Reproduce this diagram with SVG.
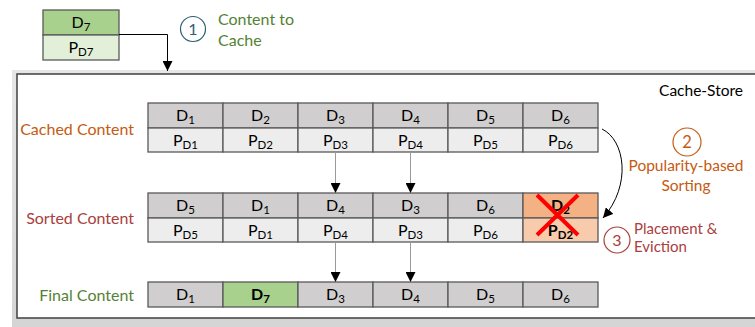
<svg xmlns="http://www.w3.org/2000/svg" width="755" height="327" viewBox="0 0 755 327">
<defs>
<marker id="ah" viewBox="0 0 10 10" refX="10" refY="5" markerWidth="10" markerHeight="10" markerUnits="userSpaceOnUse" orient="auto"><path d="M0,0 L10,5 L0,10 z" fill="#000"/></marker>
<linearGradient id="band" x1="0" y1="0" x2="0" y2="1"><stop offset="0" stop-color="#e6e6e6"/><stop offset="1" stop-color="#d4d4d4"/></linearGradient>
</defs>
<style>
text{font-family:Lato,"Liberation Sans",sans-serif;}
.cell{stroke:#595959;stroke-width:1.3;}
.d{fill:#d0cece;}
.p{fill:#ededed;}
.t{font-size:16px;fill:#000;text-anchor:middle;}
.s{font-size:11.5px;}
.lbl{font-size:16px;text-anchor:end;}
.vl{stroke:#9a9a9a;stroke-width:1;fill:none;}
</style>
<rect x="12" y="70" width="760" height="265" fill="url(#band)"/>
<rect x="17" y="74" width="760" height="244" fill="#fff" stroke="#404040" stroke-width="1.5"/>
<text x="743" y="96" font-size="15.5" text-anchor="end" fill="#000">Cache-Store</text>

<g id="d7-box">
<rect class="cell" x="43" y="10" width="76" height="25" fill="#a9d18e"/>
<rect class="cell" x="43" y="35" width="76" height="25" fill="#e2f0d9"/>
<text class="t" x="81" y="28">D<tspan class="s" dy="3">7</tspan></text>
<text class="t" x="81" y="53">P<tspan class="s" dy="3">D7</tspan></text>
</g>

<g id="step1">
<circle cx="193" cy="29" r="12.5" fill="none" stroke="#2e5f72" stroke-width="1.2"/>
<text x="193" y="35" font-size="16" text-anchor="middle" fill="#2e5f72">1</text>
<text x="218" y="25" font-size="16" fill="#548235">Content to</text>
<text x="218" y="46" font-size="16" fill="#548235">Cache</text>
</g>

<g id="labels">
<text class="lbl" x="134" y="135" fill="#c55a11">Cached Content</text>
<text class="lbl" x="134" y="224" fill="#a9403d">Sorted Content</text>
<text class="lbl" x="134" y="301" fill="#548235">Final Content</text>
</g>

<g id="cached">
<g id="c1"><rect class="cell d" x="148" y="103" width="75" height="25"/><rect class="cell p" x="148" y="128" width="75" height="24"/><text class="t" x="185.5" y="121">D<tspan class="s" dy="3">1</tspan></text><text class="t" x="185.5" y="146">P<tspan class="s" dy="3">D1</tspan></text></g>
<g id="c2"><rect class="cell d" x="223" y="103" width="75" height="25"/><rect class="cell p" x="223" y="128" width="75" height="24"/><text class="t" x="260.5" y="121">D<tspan class="s" dy="3">2</tspan></text><text class="t" x="260.5" y="146">P<tspan class="s" dy="3">D2</tspan></text></g>
<g id="c3"><rect class="cell d" x="298" y="103" width="75" height="25"/><rect class="cell p" x="298" y="128" width="75" height="24"/><text class="t" x="335.5" y="121">D<tspan class="s" dy="3">3</tspan></text><text class="t" x="335.5" y="146">P<tspan class="s" dy="3">D3</tspan></text></g>
<g id="c4"><rect class="cell d" x="373" y="103" width="75" height="25"/><rect class="cell p" x="373" y="128" width="75" height="24"/><text class="t" x="410.5" y="121">D<tspan class="s" dy="3">4</tspan></text><text class="t" x="410.5" y="146">P<tspan class="s" dy="3">D4</tspan></text></g>
<g id="c5"><rect class="cell d" x="448" y="103" width="75" height="25"/><rect class="cell p" x="448" y="128" width="75" height="24"/><text class="t" x="485.5" y="121">D<tspan class="s" dy="3">5</tspan></text><text class="t" x="485.5" y="146">P<tspan class="s" dy="3">D5</tspan></text></g>
<g id="c6"><rect class="cell d" x="523" y="103" width="75" height="25"/><rect class="cell p" x="523" y="128" width="75" height="24"/><text class="t" x="560.5" y="121">D<tspan class="s" dy="3">6</tspan></text><text class="t" x="560.5" y="146">P<tspan class="s" dy="3">D6</tspan></text></g>
</g>

<g id="sorted">
<g id="s1"><rect class="cell d" x="148" y="193" width="75" height="25"/><rect class="cell p" x="148" y="218" width="75" height="24"/><text class="t" x="185.5" y="211">D<tspan class="s" dy="3">5</tspan></text><text class="t" x="185.5" y="236">P<tspan class="s" dy="3">D5</tspan></text></g>
<g id="s2"><rect class="cell d" x="223" y="193" width="75" height="25"/><rect class="cell p" x="223" y="218" width="75" height="24"/><text class="t" x="260.5" y="211">D<tspan class="s" dy="3">1</tspan></text><text class="t" x="260.5" y="236">P<tspan class="s" dy="3">D1</tspan></text></g>
<g id="s3"><rect class="cell d" x="298" y="193" width="75" height="25"/><rect class="cell p" x="298" y="218" width="75" height="24"/><text class="t" x="335.5" y="211">D<tspan class="s" dy="3">4</tspan></text><text class="t" x="335.5" y="236">P<tspan class="s" dy="3">D4</tspan></text></g>
<g id="s4"><rect class="cell d" x="373" y="193" width="75" height="25"/><rect class="cell p" x="373" y="218" width="75" height="24"/><text class="t" x="410.5" y="211">D<tspan class="s" dy="3">3</tspan></text><text class="t" x="410.5" y="236">P<tspan class="s" dy="3">D3</tspan></text></g>
<g id="s5"><rect class="cell d" x="448" y="193" width="75" height="25"/><rect class="cell p" x="448" y="218" width="75" height="24"/><text class="t" x="485.5" y="211">D<tspan class="s" dy="3">6</tspan></text><text class="t" x="485.5" y="236">P<tspan class="s" dy="3">D6</tspan></text></g>
<g id="s6"><rect class="cell" x="523" y="193" width="75" height="25" fill="#f4b183"/><rect class="cell" x="523" y="218" width="75" height="24" fill="#f8cbad"/><text class="t" x="560.5" y="211" font-weight="bold">D<tspan class="s" dy="3">2</tspan></text><text class="t" x="560.5" y="236" font-weight="bold">P<tspan class="s" dy="3">D2</tspan></text>
<path d="M537,195 L578,235 M578,195 L537,235" stroke="#ff0000" stroke-width="4" fill="none"/></g>
</g>

<g id="final">
<g id="f1"><rect class="cell d" x="148" y="282" width="75" height="25"/><text class="t" x="185.5" y="300">D<tspan class="s" dy="3">1</tspan></text></g>
<g id="f2"><rect class="cell" x="223" y="282" width="75" height="25" fill="#a9d18e"/><text class="t" x="260.5" y="300" font-weight="bold">D<tspan class="s" dy="3">7</tspan></text></g>
<g id="f3"><rect class="cell d" x="298" y="282" width="75" height="25"/><text class="t" x="335.5" y="300">D<tspan class="s" dy="3">3</tspan></text></g>
<g id="f4"><rect class="cell d" x="373" y="282" width="75" height="25"/><text class="t" x="410.5" y="300">D<tspan class="s" dy="3">4</tspan></text></g>
<g id="f5"><rect class="cell d" x="448" y="282" width="75" height="25"/><text class="t" x="485.5" y="300">D<tspan class="s" dy="3">5</tspan></text></g>
<g id="f6"><rect class="cell d" x="523" y="282" width="75" height="25"/><text class="t" x="560.5" y="300">D<tspan class="s" dy="3">6</tspan></text></g>
</g>

<g id="step2">
<circle cx="687" cy="142" r="14" fill="none" stroke="#c55a11" stroke-width="1.2"/>
<text x="687" y="148" font-size="16.5" text-anchor="middle" fill="#c55a11">2</text>
<text x="686" y="171" font-size="15.5" text-anchor="middle" fill="#c55a11">Popularity-based</text>
<text x="686" y="191" font-size="15.5" text-anchor="middle" fill="#c55a11">Sorting</text>
</g>

<g id="step3">
<circle cx="617" cy="240" r="13" fill="none" stroke="#a9403d" stroke-width="1.2"/>
<text x="617" y="246" font-size="16" text-anchor="middle" fill="#a9403d">3</text>
<text x="634" y="234" font-size="15" fill="#a9403d">Placement &amp;</text>
<text x="634" y="252" font-size="15" fill="#a9403d">Eviction</text>
</g>

<g id="connectors">
<path d="M119,34.5 H167.5 V71" fill="none" stroke="#000" stroke-width="1" marker-end="url(#ah)"/>
<path class="vl" d="M335.5,152 V193" marker-end="url(#ah)"/>
<path class="vl" d="M410.5,152 V193" marker-end="url(#ah)"/>
<path class="vl" d="M335.5,242 V282" marker-end="url(#ah)"/>
<path class="vl" d="M410.5,242 V282" marker-end="url(#ah)"/>
<path d="M602,129 C625,140 632,185 603,218" fill="none" stroke="#000" stroke-width="1" marker-end="url(#ah)"/>
</g>
</svg>
